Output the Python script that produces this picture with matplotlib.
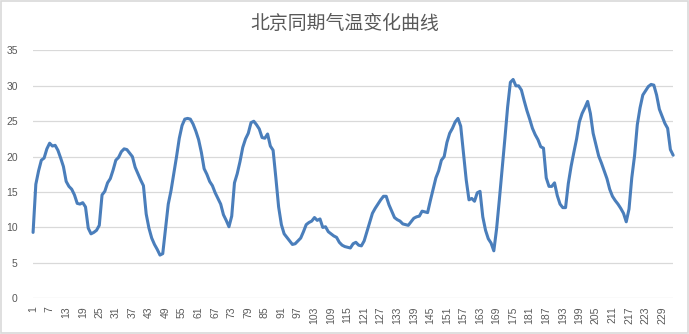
import matplotlib
matplotlib.use('Agg')
import matplotlib.pyplot as plt
import numpy as np
from matplotlib.patches import Rectangle

# %%
# daily temperature readings, same period (index 1..233)
temps = [
    9.3, 16.1, 18.0, 19.5, 19.8, 21.1, 21.9, 21.5, 21.6, 20.9,
    19.8, 18.6, 16.5, 15.8, 15.4, 14.6, 13.4, 13.3, 13.5, 12.9,
    9.9, 9.1, 9.3, 9.6, 10.3, 14.6, 15.1, 16.3, 16.9, 18.1,
    19.5, 19.9, 20.7, 21.1, 21.0, 20.5, 20.0, 18.5, 17.6, 16.7,
    15.9, 11.9, 9.9, 8.5, 7.6, 6.9, 6.1, 6.3, 9.8, 13.3,
    15.2, 17.6, 20.0, 22.6, 24.4, 25.3, 25.4, 25.3, 24.6, 23.6,
    22.4, 20.6, 18.3, 17.5, 16.5, 15.9, 14.9, 14.1, 13.3, 11.8,
    11.0, 10.1, 11.6, 16.3, 17.6, 19.3, 21.3, 22.5, 23.3, 24.8,
    25.0, 24.5, 23.9, 22.7, 22.6, 23.2, 21.5, 20.9, 17.0, 12.9,
    10.4, 9.1, 8.6, 8.1, 7.6, 7.7, 8.1, 8.5, 9.4, 10.4,
    10.7, 10.9, 11.4, 11.0, 11.2, 10.0, 10.1, 9.4, 9.1, 8.8,
    8.6, 7.9, 7.5, 7.3, 7.2, 7.1, 7.7, 7.9, 7.5, 7.4,
    8.1, 9.4, 10.7, 12.0, 12.7, 13.3, 13.9, 14.4, 14.4, 13.2,
    12.3, 11.4, 11.1, 10.9, 10.5, 10.4, 10.3, 10.8, 11.3, 11.5,
    11.6, 12.3, 12.2, 12.1, 13.8, 15.4, 17.0, 18.0, 19.5, 20.0,
    22.0, 23.3, 24.0, 24.9, 25.4, 24.3, 20.5, 16.7, 13.9, 14.1,
    13.7, 14.9, 15.1, 11.5, 9.6, 8.4, 7.8, 6.7, 9.8, 13.9,
    18.2, 22.5, 27.0, 30.5, 30.9, 30.0, 30.0, 29.4, 27.9, 26.5,
    25.3, 24.0, 23.1, 22.4, 21.4, 21.2, 17.0, 15.8, 15.8, 16.3,
    14.5, 13.3, 12.8, 12.8, 16.2, 18.6, 20.6, 22.5, 24.9, 26.1,
    26.9, 27.8, 26.1, 23.3, 21.7, 20.1, 19.1, 18.0, 16.9, 15.4,
    14.4, 13.8, 13.3, 12.7, 12.0, 10.8, 12.6, 17.0, 20.1, 24.5,
    26.9, 28.7, 29.3, 29.9, 30.2, 30.1, 28.7, 26.7, 25.7, 24.7,
    24.0, 21.0, 20.2,
]
days = np.arange(1, len(temps) + 1)
x_ticks = list(range(1, 230, 6))
y_ticks = [0, 5, 10, 15, 20, 25, 30, 35]
title = '北京同期气温变化曲线'

# %%
fig = plt.figure(figsize=(6.89, 3.34), dpi=100)
ax = fig.add_axes([0.048, 0.107, 0.929, 0.742])

ax.plot(days, temps, color='#4a7ebb', linewidth=2.2, clip_on=False,
        solid_joinstyle='round', solid_capstyle='round', zorder=3)

ax.set_xlim(1, len(temps))
ax.set_ylim(0, 35)
ax.set_yticks(y_ticks)
ax.set_xticks(x_ticks)
ax.set_xticklabels([str(t) for t in x_ticks], rotation=90)
ax.grid(axis='y', color='#d9d9d9', linewidth=0.9)
ax.set_axisbelow(True)
for s in ax.spines.values():
    s.set_visible(False)
ax.tick_params(length=0, colors='#595959', labelsize=7.5)
ax.tick_params(axis='y', pad=11)
ax.tick_params(axis='x', pad=6)
for lab in ax.get_xticklabels() + ax.get_yticklabels():
    lab.set_family('Liberation Sans')

fig.text(0.5, 0.93, title, ha='center', va='center', fontsize=13.6,
         color='#595959', family=['Noto Sans CJK SC', 'DejaVu Sans'])

# light chart border
fig.patches.append(Rectangle((0.001, 0.002), 0.997, 0.995, transform=fig.transFigure,
                             fill=False, edgecolor='#d9d9d9', linewidth=1.2))

fig.savefig('out.png', dpi=100)
